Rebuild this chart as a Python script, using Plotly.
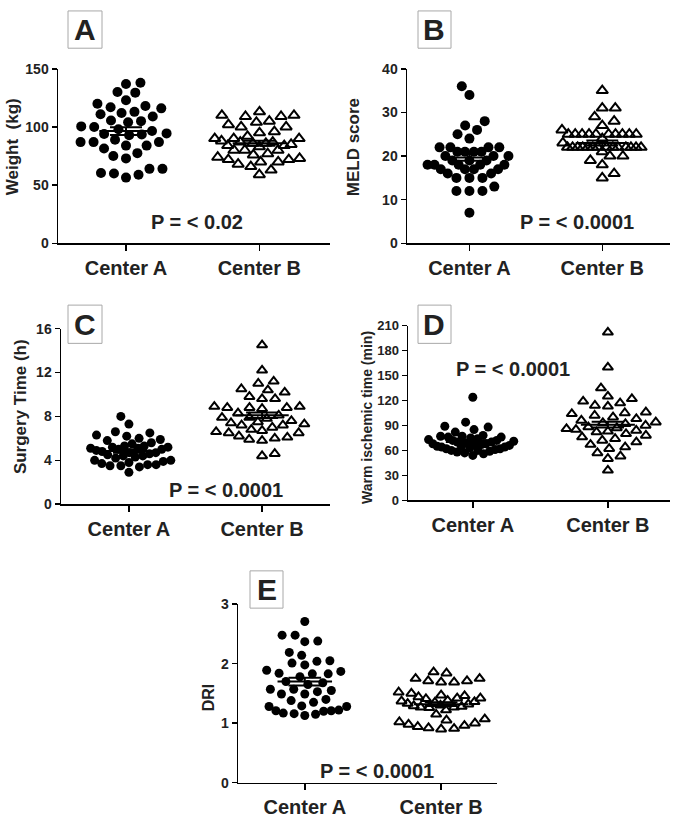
import numpy as np
import plotly.graph_objects as go

W, H = 679, 825
FONT = "Liberation Sans, Arial, Helvetica, sans-serif"

categories = ["Center A", "Center B"]

# ---------------- data ----------------
weight_center_a = [137, 138, 129.5, 130, 123, 120, 118, 117, 116, 113, 111, 112, 109, 105.5, 104, 105,
                   100.5, 98, 100, 96.5, 93.5, 93, 94, 94.5, 87, 87, 87, 89, 84, 81.5, 84, 77.5, 75, 73,
                   64, 60, 56.5, 59, 60.5, 64]
weight_center_b = [113, 109, 110, 109, 110, 105, 102, 100, 100, 104, 96, 95, 92, 90, 88, 87, 86, 86, 87, 90,
                   90, 85, 84, 84, 83, 80, 77, 74, 72, 72, 73, 76, 80, 80, 70, 66, 59, 63, 68, 70]
weight_means = [96.5, 86.0]
weight_sems = [3.3, 2.2]

meld_center_a = [36, 34, 28, 27, 26, 25, 24, 22, 22, 22, 22, 21, 21, 21, 21, 20, 20, 20, 19, 19, 19,
                 18, 18, 18, 18, 18, 17, 17, 17, 17, 16, 16, 15, 15, 15, 13, 12, 12, 12, 7]
meld_center_b = [35, 31, 31, 29, 28, 27, 26, 25, 25, 25, 25, 25, 25, 25, 25, 25, 25, 24, 23,
                 22, 22, 22, 22, 22, 22, 22, 22, 22, 22, 22, 22, 22, 22, 21, 20, 20, 19, 18, 16, 15]
meld_means = [19.7, 23.0]
meld_sems = [0.8, 0.55]

surgery_center_a = [8.0, 7.3, 6.6, 6.5, 6.3, 6.2, 6.0, 5.9, 5.8, 5.6, 5.5, 5.3, 5.3, 5.2, 5.2, 5.1, 5.1,
                    5.0, 5.0, 4.9, 4.8, 4.7, 4.7, 4.6, 4.5, 4.4, 4.4, 4.3, 4.2, 4.0, 4.0, 3.9, 3.8, 3.7,
                    3.6, 3.6, 3.5, 3.5, 3.4, 2.9]
surgery_center_b = [14.5, 12.2, 11.2, 11.0, 10.5, 10.4, 10.2, 9.8, 9.6, 9.6, 8.9, 8.9, 8.8, 8.8, 8.8, 8.7,
                    8.3, 8.1, 7.9, 7.9, 7.8, 7.6, 7.5, 7.4, 7.3, 7.2, 7.2, 7.0, 6.8, 6.7, 6.6, 6.5, 6.5,
                    6.2, 6.1, 6.0, 5.9, 5.8, 4.6, 4.4]
surgery_means = [4.85, 8.1]
surgery_sems = [0.15, 0.25]

warm_center_a = [124, 94, 89, 88, 85, 82, 78, 77, 77, 76, 76, 75, 74, 73, 72, 72, 71, 70, 70, 69,
                 68, 68, 67, 67, 66, 65, 65, 64, 64, 63, 62, 62, 61, 60, 60, 59, 58, 57, 56, 54]
warm_center_b = [202, 160, 135, 125, 122, 119, 117, 114, 113, 106, 105, 104, 102, 100, 98, 96, 94, 93,
                 92, 90, 88, 87, 86, 85, 84, 83, 82, 80, 78, 76, 74, 72, 70, 67, 64, 62, 57, 53, 50, 36]
warm_means = [70.0, 91.0]
warm_sems = [2.3, 3.5]

dri_center_a = [2.71, 2.48, 2.48, 2.38, 2.37, 2.19, 2.14, 2.05, 2.01, 1.98, 2.04, 1.84, 1.83, 1.78,
                1.89, 1.87, 1.83, 1.68, 1.70, 1.65, 1.57, 1.57, 1.53, 1.49, 1.55, 1.49, 1.38, 1.40,
                1.35, 1.29, 1.28, 1.21, 1.20, 1.17, 1.15, 1.13, 1.16, 1.21, 1.22, 1.28]
dri_center_b = [1.86, 1.84, 1.75, 1.75, 1.71, 1.71, 1.69, 1.69, 1.52, 1.50, 1.47, 1.46, 1.44, 1.42,
                1.42, 1.41, 1.38, 1.37, 1.36, 1.35, 1.33, 1.32, 1.30, 1.29, 1.28, 1.27, 1.27, 1.26,
                1.22, 1.15, 1.07, 1.05, 1.02, 1.00, 0.98, 0.96, 0.94, 0.92, 0.91, 0.90]
dri_means = [1.70, 1.32]
dri_sems = [0.065, 0.03]

# ---------------- panel layout ----------------
panels = [
    dict(letter="A", a=weight_center_a, b=weight_center_b, means=weight_means, sems=weight_sems,
         ytitle="Weight  (kg)", ymax=150, dtick=50, ptext="P = < 0.02", ppos=(0.53, 18),
         box=(58, 330, 62, 240), xr=(-0.51, 1.53), lbl=(68, 3, 102, 41), tpos=(12, 142),
         tsize=17, ticksize=14, msize=10),
    dict(letter="B", a=meld_center_a, b=meld_center_b, means=meld_means, sems=meld_sems,
         ytitle="MELD score", ymax=40, dtick=10, ptext="P = < 0.0001", ppos=(0.81, 5.0),
         box=(407, 670, 62, 240), xr=(-0.47, 1.51), lbl=(418, 3, 451, 41), tpos=(353, 142),
         tsize=17, ticksize=14, msize=10),
    dict(letter="C", a=surgery_center_a, b=surgery_center_b, means=surgery_means, sems=surgery_sems,
         ytitle="Surgery Time (h)", ymax=16, dtick=4, ptext="P = < 0.0001", ppos=(0.73, 1.25),
         box=(61, 330, 327, 506), xr=(-0.51, 1.51), lbl=(68, 303, 102, 342), tpos=(20, 407),
         tsize=17, ticksize=14, msize=9),
    dict(letter="D", a=warm_center_a, b=warm_center_b, means=warm_means, sems=warm_sems,
         ytitle="Warm ischemic time (min)", ymax=210, dtick=30, ptext="P = < 0.0001", ppos=(0.30, 158),
         box=(408, 670, 324, 502), xr=(-0.48, 1.46), lbl=(418, 303, 451, 342), tpos=(367, 418),
         tsize=14, ticksize=13, msize=9),
    dict(letter="E", a=dri_center_a, b=dri_center_b, means=dri_means, sems=dri_sems,
         ytitle="DRI", ymax=3, dtick=1, ptext="P = < 0.0001", ppos=(0.53, 0.2),
         box=(238, 497, 608, 790), xr=(-0.49, 1.41), lbl=(250, 574, 283, 612), tpos=(208, 703),
         tsize=16, ticksize=14, msize=9),
]


def swarm_offsets(values, ppu_y, ppu_x, dv, dh0, half_w):
    """Beeswarm horizontal offsets (category units) computed from the values."""
    v = np.asarray(values, float)
    py = v * ppu_y
    n = len(v)
    dh = np.empty(n)
    for i in range(n):
        cnt = int(np.sum(np.abs(py - py[i]) < dv * 0.5))
        dh[i] = dh0 if cnt <= 1 else min(dh0, 2 * half_w / (cnt - 1))
    order = np.argsort(v, kind="stable")
    xs = np.zeros(n)
    placed = []
    bal = 0
    for i in order:
        ints = []
        for j in placed:
            dy = abs(py[i] - py[j])
            if dy < dv:
                h = min(dh[i], dh[j]) * np.sqrt(1 - (dy / dv) ** 2)
                ints.append((xs[j] - h, xs[j] + h))
        cands = [0.0] + [a for a, b in ints] + [b for a, b in ints]
        ok = [c for c in cands if all(not (a + 1e-6 < c < b - 1e-6) for a, b in ints)]
        pref = -1 if bal > 0 else 1
        best = min(ok, key=lambda c: (round(abs(c), 4), 0 if c * pref >= 0 else 1))
        xs[i] = best
        bal += np.sign(best)
        placed.append(i)
    return xs / ppu_x


fig = go.Figure()
shapes = []
annotations = []
layout_axes = {}

for k, p in enumerate(panels, start=1):
    x0, x1, yt, yb = p["box"]
    xr = p["xr"]
    sfx = "" if k == 1 else str(k)
    xa, ya = f"x{sfx}", f"y{sfx}"
    ppu_x = (x1 - x0) / (xr[1] - xr[0])
    ppu_y = (yb - yt) / p["ymax"]

    for g, (vals, sym) in enumerate([(p["a"], "circle"), (p["b"], "triangle-up-open")]):
        offs = swarm_offsets(vals, ppu_y, ppu_x, dv=p["msize"] + 1, dh0=13, half_w=38)
        if sym == "circle":
            marker = dict(symbol=sym, size=p["msize"], color="black", line=dict(width=0))
        else:
            marker = dict(symbol=sym, size=p["msize"], color="black", line=dict(width=2, color="black"))
        fig.add_trace(go.Scatter(x=g + offs, y=vals, mode="markers", marker=marker,
                                 xaxis=xa, yaxis=ya, showlegend=False, cliponaxis=False,
                                 hoverinfo="y"))

    # mean +/- SEM
    lx, ly = [], []
    for g, (m, s) in enumerate(zip(p["means"], p["sems"])):
        lx += [g - 0.2, g + 0.2, None, g - 0.12, g + 0.12, None, g - 0.12, g + 0.12, None, g, g, None]
        ly += [m, m, None, m + s, m + s, None, m - s, m - s, None, m - s, m + s, None]
    fig.add_trace(go.Scatter(x=lx, y=ly, mode="lines", line=dict(color="black", width=2),
                             xaxis=xa, yaxis=ya, showlegend=False, hoverinfo="skip"))

    layout_axes[f"xaxis{sfx}"] = dict(
        domain=[x0 / W, x1 / W], range=list(xr), anchor=ya, showgrid=False, zeroline=False,
        showline=True, linecolor="black", linewidth=1.5, ticks="outside", ticklen=6,
        tickwidth=1.5, tickcolor="black", tickvals=[0, 1], ticktext=categories,
        tickfont=dict(family=FONT, size=20, color="#222222", weight="bold"), fixedrange=True)
    layout_axes[f"yaxis{sfx}"] = dict(
        domain=[1 - yb / H, 1 - yt / H], range=[0, p["ymax"]], anchor=xa, showgrid=False,
        zeroline=False, showline=True, linecolor="black", linewidth=1.5, ticks="outside",
        ticklen=5, tickwidth=1.5, tickcolor="black", tickmode="linear", tick0=0, dtick=p["dtick"],
        tickfont=dict(family=FONT, size=p["ticksize"], color="#222222", weight="bold"),
        fixedrange=True)

    # y title
    tx, ty = p["tpos"]
    annotations.append(dict(text=p["ytitle"], x=tx / W, y=1 - ty / H, xref="paper", yref="paper",
                            showarrow=False, textangle=-90, xanchor="center", yanchor="middle",
                            font=dict(family=FONT, size=p["tsize"], color="#222222", weight="bold")))
    # p-value
    annotations.append(dict(text=p["ptext"], x=p["ppos"][0], y=p["ppos"][1], xref=xa, yref=ya,
                            showarrow=False, xanchor="center", yanchor="middle",
                            font=dict(family=FONT, size=20, color="#222222", weight="bold")))
    # panel letter box
    bx0, by0, bx1, by1 = p["lbl"]
    shapes.append(dict(type="rect", xref="paper", yref="paper", x0=bx0 / W, x1=bx1 / W,
                       y0=1 - by1 / H, y1=1 - by0 / H, line=dict(color="#a8a8a8", width=1),
                       fillcolor="white", layer="below"))
    annotations.append(dict(text=p["letter"], x=(bx0 + bx1) / 2 / W, y=1 - (by0 + by1) / 2 / H,
                            xref="paper", yref="paper", showarrow=False, xanchor="center",
                            yanchor="middle",
                            font=dict(family=FONT, size=30, color="#222222", weight="bold")))

fig.update_layout(width=W, height=H, margin=dict(l=0, r=0, t=0, b=0),
                  paper_bgcolor="white", plot_bgcolor="white", hovermode=False,
                  shapes=shapes, annotations=annotations, **layout_axes)

fig.write_html("out.html", config={"displayModeBar": False, "staticPlot": True},
               post_script="document.body.style.margin='0';document.body.style.overflow='hidden';")
